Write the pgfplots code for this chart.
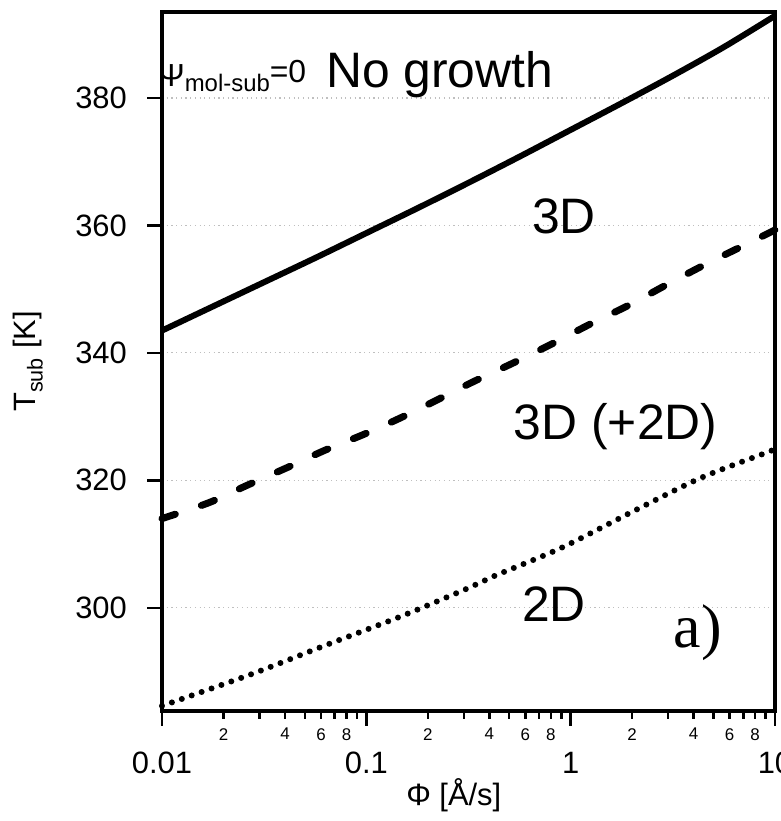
\documentclass[border=0pt]{standalone}
\usepackage{fontspec}
\setmainfont{Liberation Sans}
\newfontfamily\timesfont{Liberation Serif}
\usepackage{pgfplots}
\usepackage{pgfplotstable}
\pgfplotsset{compat=1.18}

\pgfplotstableread{
phi T
0.01 343.5
0.01778 347.3
0.03162 351.1
0.05623 354.9
0.1 358.8
0.1778 362.7
0.3162 366.7
0.5623 370.8
1 375.0
1.778 379.2
3.162 383.5
5.623 388.0
10 392.9
}\solidtab

\pgfplotstableread{
phi T
0.01 314.0
0.017 316.5
0.026 319.2
0.041 322.0
0.0625 324.7
0.097 327.2
0.147 329.8
0.228 332.8
0.33 335.4
0.53 338.5
0.82 341.5
1.26 344.6
1.93 347.5
3.03 350.9
4.7 354.1
7.4 357.2
10 359.3
}\dashedtab

\pgfplotstableread{
phi T
0.01 284.6
0.0275 289.6
0.0618 294.0
0.149 298.7
0.316 303.1
0.424 305.0
0.9 309.4
2.04 315.2
4.35 320.4
9.0 324.3
10 324.9
}\dottedtab

\begin{document}
\begin{tikzpicture}
\begin{axis}[
  at={(0,0)}, anchor=south west,
  scale only axis, width=613bp, height=699bp,
  xmode=log, xmin=0.01, xmax=10, ymin=283.8, ymax=393.5,
  clip=false,
  axis line style={line width=3.5bp},
  tick align=outside, xtick pos=bottom, ytick pos=left,
  xminorticks=false, yminorticks=false,
  xtick={0.01,0.1,1,10}, xticklabels={0.01,0.1,1,10},
  ytick={300,320,340,360,380}, yticklabels={300,320,340,360,380},
  major tick length=15bp,
  every tick/.style={black, line width=2.5bp},
  ticklabel style={font=\fontsize{31}{31}\selectfont, inner sep=0pt},
  xticklabel style={anchor=north, yshift=-26bp},
  yticklabel style={anchor=east, xshift=-20bp},
  extra x ticks={0.02,0.03,0.04,0.05,0.06,0.07,0.08,0.09,0.2,0.3,0.4,0.5,0.6,0.7,0.8,0.9,2,3,4,5,6,7,8,9},
  extra x tick labels={2,{},4,{},6,{},8,{},2,{},4,{},6,{},8,{},2,{},4,{},6,{},8,{}},
  extra x tick style={major tick length=8bp, grid=none, xticklabel style={font=\fontsize{17}{17}\selectfont, yshift=17bp}},
  ymajorgrids=true,
  grid style={gray!50, line width=1.2bp, dash pattern=on 1.2bp off 3.5bp},
]
\addplot[black, mark=none, line width=6bp, smooth] table {\solidtab};
\addplot[black, mark=none, line width=7bp, dash pattern=on 14bp off 27.5bp, line cap=round, smooth] table {\dashedtab};
\addplot[black, mark=none, line width=6bp, dash pattern=on 0bp off 10.5bp, line cap=round, smooth] table {\dottedtab};

\node[anchor=base west, inner sep=0pt, font=\fontsize{32}{32}\selectfont] at (axis cs:0.00956,382.5) {\raisebox{-4bp}{Ψ}\raisebox{-9bp}{\fontsize{24}{24}\selectfont mol-sub}=0};
\node[anchor=base west, inner sep=0pt, font=\fontsize{50}{50}\selectfont] at (axis cs:0.0635,381.6) {No growth};
\node[anchor=base, inner sep=0pt, font=\fontsize{50}{50}\selectfont] at (axis cs:0.929,358.8) {3D};
\node[anchor=base, inner sep=0pt, font=\fontsize{50}{50}\selectfont] at (axis cs:1.66,326.4) {3D (+2D)};
\node[anchor=base, inner sep=0pt, font=\fontsize{50}{50}\selectfont] at (axis cs:0.83,297.8) {2D};
\node[anchor=base, inner sep=0pt, font=\timesfont\fontsize{62}{62}\selectfont] at (axis cs:4.18,293.7) {a)};
\node[anchor=base, inner sep=0pt, font=\fontsize{31}{31}\selectfont] at (rel axis cs:0.476,-0.135) {Φ [Å/s]};
\node[anchor=north, rotate=90, inner sep=0pt, font=\fontsize{31}{31}\selectfont] at (rel axis cs:-0.243,0.5) {T\textsubscript{sub} [K]};
\end{axis}
\pgfresetboundingbox
\path (-162bp,-110bp) rectangle (619bp,711bp);
\end{tikzpicture}
\end{document}
